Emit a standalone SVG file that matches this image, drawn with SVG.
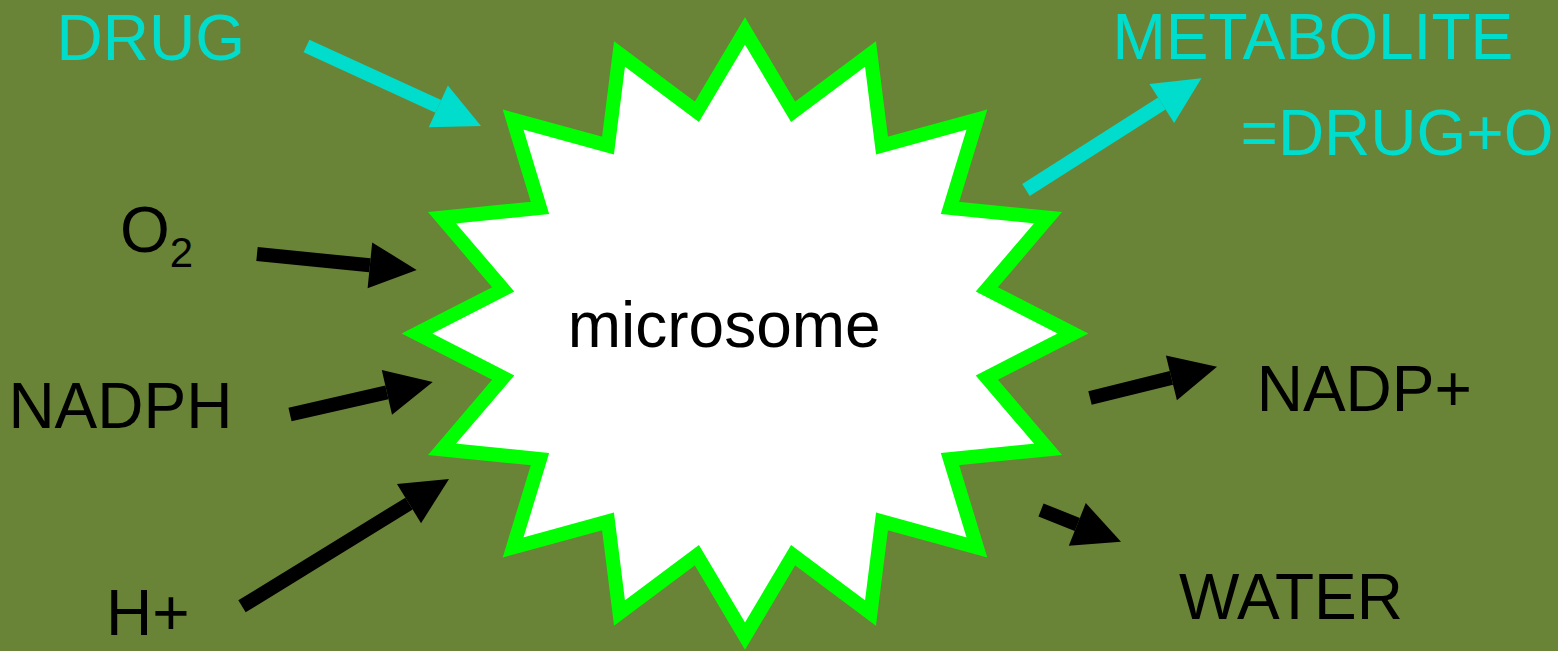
<svg xmlns="http://www.w3.org/2000/svg" width="1558" height="651" viewBox="0 0 1558 651">
<style>
.lbl{font-family:"Liberation Sans",Arial,sans-serif;font-size:64px}
.cy{fill:#00DDCC}
.bk{fill:#000}
.sh{stroke-width:14;stroke-linecap:butt;fill:none}
.shc{stroke:#00DDCC}
.shb{stroke:#000}
</style>
<defs>
<marker id="hc" markerUnits="userSpaceOnUse" markerWidth="47" markerHeight="46" refX="0" refY="23" orient="auto" overflow="visible"><path d="M0,0 L47,23 L0,46 Z" fill="#00DDCC"/></marker>
<marker id="hb" markerUnits="userSpaceOnUse" markerWidth="47" markerHeight="46" refX="0" refY="23" orient="auto" overflow="visible"><path d="M0,0 L47,23 L0,46 Z" fill="#000"/></marker>
</defs>
<rect width="1558" height="651" fill="#6A8437"/>
<g id="connectors">
<line class="sh shc" x1="306.5" y1="46" x2="438.3" y2="106.4" marker-end="url(#hc)"/>
<line class="sh shb" x1="257" y1="254" x2="369.9" y2="265.3" marker-end="url(#hb)"/>
<line class="sh shb" x1="290" y1="414.5" x2="386.9" y2="392.4" marker-end="url(#hb)"/>
<line class="sh shb" x1="242" y1="606.3" x2="409" y2="503.6" marker-end="url(#hb)"/>
<line class="sh shc" x1="1026" y1="190" x2="1161.8" y2="103.5" marker-end="url(#hc)"/>
<line class="sh shb" x1="1090" y1="398" x2="1171.4" y2="377.9" marker-end="url(#hb)"/>
<line class="sh shb" x1="1041" y1="510" x2="1077.3" y2="524.4" marker-end="url(#hb)"/>
</g>
<g id="microsome">
<polygon points="745,31 793.1,111.8 870.5,54 882,145.6 976.9,119.6 950,207.9 1048,217.7 986.8,289.4 1073,333.5 986.8,377.6 1048,449.3 950,459.1 976.9,547.4 882,521.4 870.5,613 793.1,555.2 745,636 696.9,555.2 619.5,613 608,521.4 513.1,547.4 540,459.1 442,449.3 503.2,377.6 417,333.5 503.2,289.4 442,217.7 540,207.9 513.1,119.6 608,145.6 619.5,54 696.9,111.8" fill="#fff" stroke="#00FF00" stroke-width="14" stroke-linejoin="miter"/>
<text class="lbl bk" x="567.7" y="347">microsome</text>
</g>
<g id="drug"><text class="lbl cy" x="56.6" y="60">DRUG</text></g>
<g id="o2"><text class="lbl bk" x="120" y="252">O<tspan font-size="42" dy="15">2</tspan></text></g>
<g id="nadph"><text class="lbl bk" x="8.4" y="427.7">NADPH</text></g>
<g id="hplus"><text class="lbl bk" x="106" y="635">H+</text></g>
<g id="metabolite"><text class="lbl cy" x="1112.5" y="59.3">METABOLITE</text><text class="lbl cy" x="1240.5" y="155">=DRUG+O</text></g>
<g id="nadpplus"><text class="lbl bk" x="1256.7" y="410.7">NADP+</text></g>
<g id="water"><text class="lbl bk" x="1179" y="619">WATER</text></g>
</svg>
